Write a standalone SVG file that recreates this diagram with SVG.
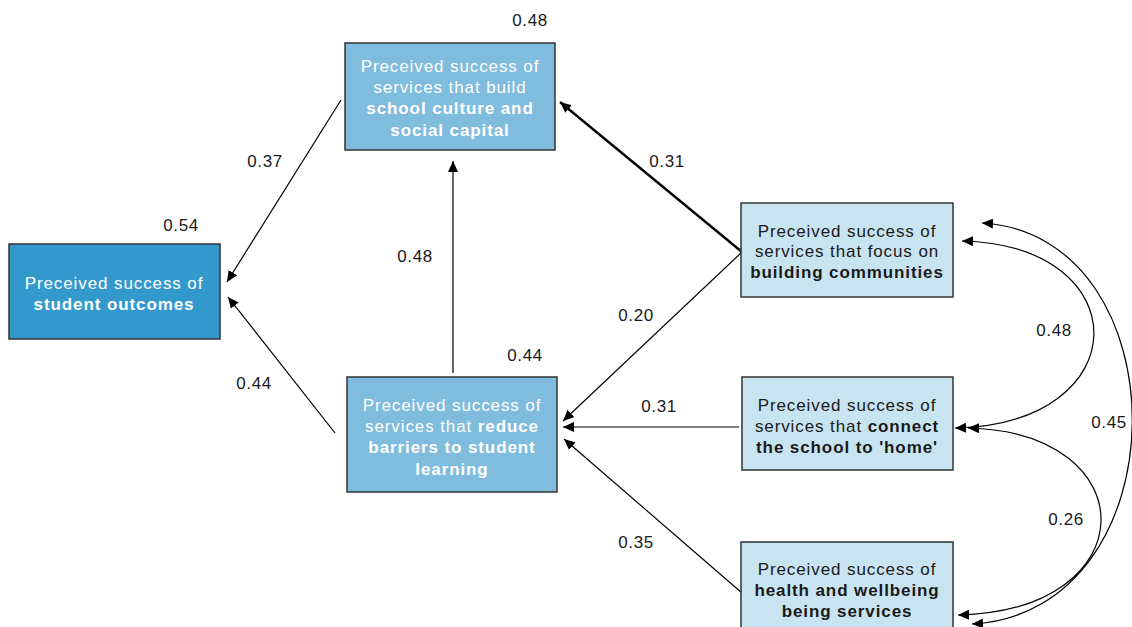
<svg xmlns="http://www.w3.org/2000/svg" width="1132" height="627" viewBox="0 0 1132 627">
<style>
.box{stroke:#333;stroke-width:1.5}
.dark{fill:#3399cc}
.mid{fill:#7fbcdd}
.light{fill:#c8e4f1}
text{font-family:"Liberation Sans",Arial,sans-serif;font-size:17px;letter-spacing:0.9px;text-anchor:middle}
.w{fill:#ffffff}
.k{fill:#1a1a1a}
.b{font-weight:bold}
.lbl{fill:#1a1a1a;letter-spacing:0.6px}
.c{fill:none;stroke:#000;stroke-width:1.2}
</style>
<defs>
<marker id="ah" markerUnits="userSpaceOnUse" markerWidth="12" markerHeight="10" refX="11" refY="5" orient="auto-start-reverse">
<path d="M0,0 L11,5 L0,10 Z" fill="#000"/>
</marker>
</defs>
<rect width="1132" height="627" fill="#fff"/>
<g id="connectors">
<line class="c" x1="341" y1="100" x2="227" y2="282" marker-end="url(#ah)"/>
<line class="c" x1="335" y1="433" x2="228" y2="297" marker-end="url(#ah)"/>
<line class="c" x1="453" y1="373" x2="453" y2="161" marker-end="url(#ah)"/>
<line class="c" x1="742" y1="252" x2="560" y2="102" marker-end="url(#ah)" style="stroke-width:2.4"/>
<line class="c" x1="742" y1="252" x2="563" y2="421" marker-end="url(#ah)"/>
<line class="c" x1="739" y1="427" x2="563" y2="427" marker-end="url(#ah)"/>
<line class="c" x1="742" y1="593" x2="564" y2="439" marker-end="url(#ah)"/>
<path class="c" d="M962,241 C1139,245 1139,424 955,428" marker-start="url(#ah)" marker-end="url(#ah)"/>
<path class="c" d="M982,223 C1184,235 1184,612 972,624" marker-start="url(#ah)" marker-end="url(#ah)"/>
<path class="c" d="M968,428 C1147,432 1147,611 958,615" marker-start="url(#ah)" marker-end="url(#ah)"/>
</g>
<g id="labels">
<text class="lbl" x="530" y="26">0.48</text>
<text class="lbl" x="265" y="167">0.37</text>
<text class="lbl" x="181" y="231">0.54</text>
<text class="lbl" x="415" y="262">0.48</text>
<text class="lbl" x="525" y="361">0.44</text>
<text class="lbl" x="254" y="389">0.44</text>
<text class="lbl" x="667" y="167">0.31</text>
<text class="lbl" x="636" y="321">0.20</text>
<text class="lbl" x="659" y="412">0.31</text>
<text class="lbl" x="636" y="548">0.35</text>
<text class="lbl" x="1054" y="336">0.48</text>
<text class="lbl" x="1109" y="428">0.45</text>
<text class="lbl" x="1066" y="525">0.26</text>
</g>
<g id="node-culture">
<rect class="box mid" x="345" y="43" width="210" height="107"/>
<text class="w" x="450" y="72">Preceived success of</text>
<text class="w" x="450" y="93">services that build</text>
<text class="w b" x="450" y="114">school culture and</text>
<text class="w b" x="450" y="136">social capital</text>
</g>
<g id="node-outcomes">
<rect class="box dark" x="9" y="244" width="211" height="95"/>
<text class="w" x="114" y="289">Preceived success of</text>
<text class="w b" x="114" y="310">student outcomes</text>
</g>
<g id="node-barriers">
<rect class="box mid" x="347" y="377" width="210" height="115"/>
<text class="w" x="452" y="411">Preceived success of</text>
<text class="w" x="452" y="432">services that <tspan class="b">reduce</tspan></text>
<text class="w b" x="452" y="453">barriers to student</text>
<text class="w b" x="452" y="475">learning</text>
</g>
<g id="node-communities">
<rect class="box light" x="741" y="203" width="212" height="94"/>
<text class="k" x="847" y="237">Preceived success of</text>
<text class="k" x="847" y="257">services that focus on</text>
<text class="k b" x="847" y="278">building communities</text>
</g>
<g id="node-home">
<rect class="box light" x="742" y="377" width="211" height="93"/>
<text class="k" x="847" y="411">Preceived success of</text>
<text class="k" x="847" y="432">services that <tspan class="b">connect</tspan></text>
<text class="k b" x="847" y="453">the school to 'home'</text>
</g>
<g id="node-health">
<rect class="box light" x="741" y="542" width="212" height="100"/>
<text class="k" x="847" y="575">Preceived success of</text>
<text class="k b" x="847" y="596">health and wellbeing</text>
<text class="k b" x="847" y="617">being services</text>
</g>
</svg>
